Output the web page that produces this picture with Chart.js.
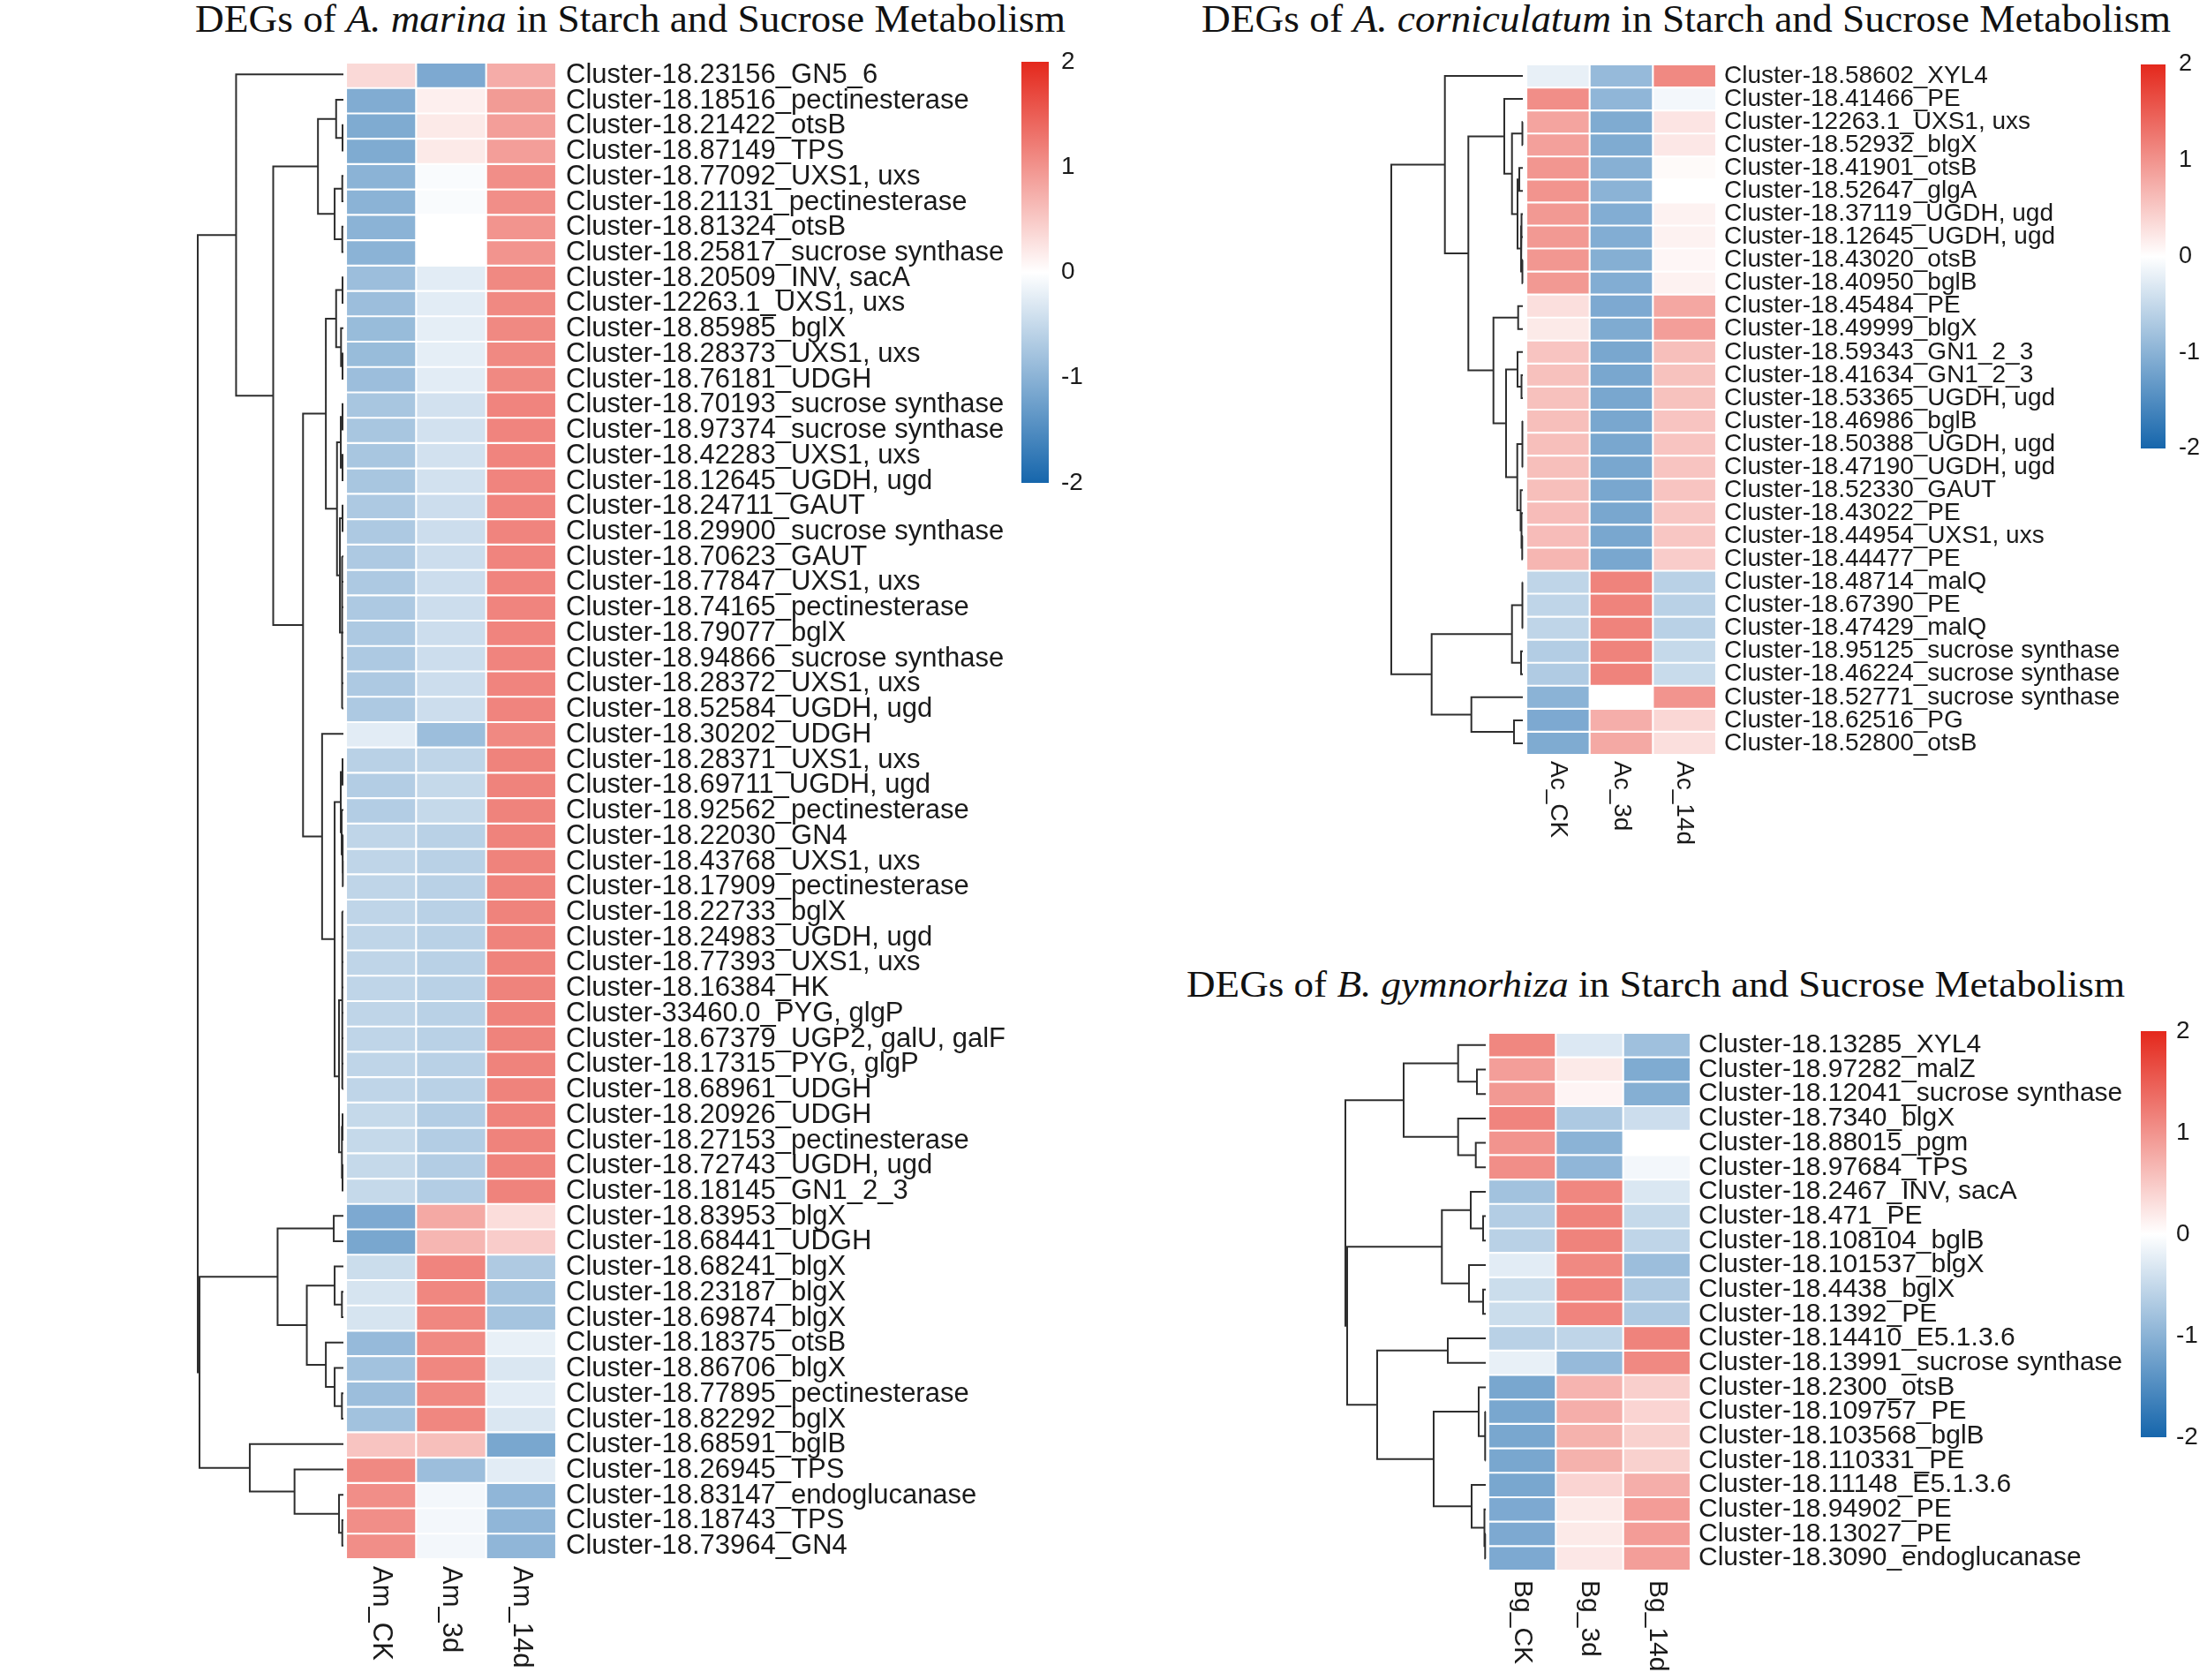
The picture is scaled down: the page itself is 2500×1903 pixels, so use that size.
<!DOCTYPE html>
<html>
<head>
<meta charset="utf-8">
<title>DEGs in Starch and Sucrose Metabolism</title>
<script src="https://cdn.jsdelivr.net/npm/chart.js@4.4.1/dist/chart.umd.min.js"></script>
<style>
  html, body { margin:0; padding:0; background:#fff; }
  body { width:2500px; height:1903px; position:relative; overflow:hidden; }
  canvas { position:absolute; }
  .ttl { position:absolute; font-family:"Liberation Serif","Times New Roman",serif; white-space:nowrap; color:#111; transform-origin:0 0; }
</style>
</head>
<body>
<div class="ttl" id="t1"></div>
<div class="ttl" id="t2"></div>
<div class="ttl" id="t3"></div>
<canvas id="d1"></canvas><canvas id="h1"></canvas><canvas id="k1"></canvas>
<canvas id="d2"></canvas><canvas id="h2"></canvas><canvas id="k2"></canvas>
<canvas id="d3"></canvas><canvas id="h3"></canvas><canvas id="k3"></canvas>
<script>
// ---------------- DATA ----------------
const amTitle = ['DEGs of ', 'A. marina', ' in Starch and Sucrose Metabolism'];
const acTitle = ['DEGs of ', 'A. corniculatum', ' in Starch and Sucrose Metabolism'];
const bgTitle = ['DEGs of ', 'B. gymnorhiza', ' in Starch and Sucrose Metabolism'];

const amCols = ['Am_CK', 'Am_3d', 'Am_14d'];
const acCols = ['Ac_CK', 'Ac_3d', 'Ac_14d'];
const bgCols = ['Bg_CK', 'Bg_3d', 'Bg_14d'];
const cbTicks = [-2, -1, 0, 1, 2];

const amGenes = [
"Cluster-18.23156_GN5_6","Cluster-18.18516_pectinesterase","Cluster-18.21422_otsB","Cluster-18.87149_TPS",
"Cluster-18.77092_UXS1, uxs","Cluster-18.21131_pectinesterase","Cluster-18.81324_otsB","Cluster-18.25817_sucrose synthase",
"Cluster-18.20509_INV, sacA","Cluster-12263.1_UXS1, uxs","Cluster-18.85985_bglX","Cluster-18.28373_UXS1, uxs",
"Cluster-18.76181_UDGH","Cluster-18.70193_sucrose synthase","Cluster-18.97374_sucrose synthase","Cluster-18.42283_UXS1, uxs",
"Cluster-18.12645_UGDH, ugd","Cluster-18.24711_GAUT","Cluster-18.29900_sucrose synthase","Cluster-18.70623_GAUT",
"Cluster-18.77847_UXS1, uxs","Cluster-18.74165_pectinesterase","Cluster-18.79077_bglX","Cluster-18.94866_sucrose synthase",
"Cluster-18.28372_UXS1, uxs","Cluster-18.52584_UGDH, ugd","Cluster-18.30202_UDGH","Cluster-18.28371_UXS1, uxs",
"Cluster-18.69711_UGDH, ugd","Cluster-18.92562_pectinesterase","Cluster-18.22030_GN4","Cluster-18.43768_UXS1, uxs",
"Cluster-18.17909_pectinesterase","Cluster-18.22733_bglX","Cluster-18.24983_UGDH, ugd","Cluster-18.77393_UXS1, uxs",
"Cluster-18.16384_HK","Cluster-33460.0_PYG, glgP","Cluster-18.67379_UGP2, galU, galF","Cluster-18.17315_PYG, glgP",
"Cluster-18.68961_UDGH","Cluster-18.20926_UDGH","Cluster-18.27153_pectinesterase","Cluster-18.72743_UGDH, ugd",
"Cluster-18.18145_GN1_2_3","Cluster-18.83953_blgX","Cluster-18.68441_UDGH","Cluster-18.68241_blgX",
"Cluster-18.23187_blgX","Cluster-18.69874_blgX","Cluster-18.18375_otsB","Cluster-18.86706_blgX",
"Cluster-18.77895_pectinesterase","Cluster-18.82292_bglX","Cluster-18.68591_bglB","Cluster-18.26945_TPS",
"Cluster-18.83147_endoglucanase","Cluster-18.18743_TPS","Cluster-18.73964_GN4"];

const amCK = [0.35,-1.08,-1.1,-1.1,-1.0,-1.0,-1.0,-1.0,-0.85,-0.85,-0.88,-0.88,-0.85,
  -0.75,-0.75,-0.75,-0.75,-0.7,-0.7,-0.7,-0.7,-0.7,-0.7,-0.7,-0.7,-0.7,
  -0.25,-0.6,-0.65,-0.65,-0.55,-0.55,-0.55,-0.55,-0.55,-0.55,-0.55,-0.55,-0.55,-0.55,-0.55,-0.5,-0.5,-0.5,-0.5,
  -1.12,-1.15,-0.45,-0.35,-0.35,-0.9,-0.8,-0.85,-0.8,0.55,1.1,1.05,1.05,1.05];
const am3d = [-1.12,0.15,0.2,0.2,-0.05,-0.05,0.0,0.0,-0.25,-0.25,-0.22,-0.22,-0.25,
  -0.39,-0.39,-0.39,-0.39,-0.44,-0.44,-0.44,-0.44,-0.44,-0.44,-0.44,-0.44,-0.44,
  -0.85,-0.55,-0.5,-0.5,-0.6,-0.6,-0.6,-0.6,-0.6,-0.6,-0.6,-0.6,-0.6,-0.6,-0.6,-0.65,-0.65,-0.65,-0.65,
  0.8,0.68,1.14,1.12,1.12,1.1,1.12,1.1,1.12,0.6,-0.85,-0.1,-0.1,-0.1];
const am14d = [0.77,0.93,0.9,0.9,1.05,1.05,1.0,1.0,1.1,1.1,1.1,1.1,1.1,
  1.14,1.14,1.14,1.14,1.14,1.14,1.14,1.14,1.14,1.14,1.14,1.14,1.14,
  1.1,1.15,1.15,1.15,1.15,1.15,1.15,1.15,1.15,1.15,1.15,1.15,1.15,1.15,1.15,1.15,1.15,1.15,1.15,
  0.32,0.47,-0.69,-0.77,-0.77,-0.2,-0.32,-0.25,-0.32,-1.15,-0.25,-0.95,-0.95,-0.95];

// dendrogram: [mergeHeight, child, child, ...]; leaves are row indices
const amTree = [166,
  [122.3, 0,
    [80,
      [29, [8.3, 1, [1, 2, 3]], [10, [1.3, 4, 5], [1.3, 6, 7]]],
      [46,
        [20,
          [8.3, [1, 8, 9], [2.7, 10, [1, 11, 12]]],
          [7.3, [3, [1, 13, 14], [1, 15, 16]], [4, [1, 17, 18], [1.5, 19, 20, 21, 22, 23, 24, 25]]]],
        [24.3, 26,
          [10, [3, [1, 27, 28], [2, 29, [1, 30, [0.7, 31, 32]]]],
               [5, [1.3, 33, 34, 35, 36, 37, 38, 39, 40], [1.7, [1, 41, 42], [1, 43, 44]]]]]]]],
  [164,
    [75, [11, 45, 46], [41.7, [10, 47, [1.7, 48, 49]], [20, 50, [10, 51, [1.7, 52, 53]]]]],
    [106.7, 54, [55.7, 55, [5, 56, [1.3, 57, 58]]]]]];

const acGenes = [
"Cluster-18.58602_XYL4","Cluster-18.41466_PE","Cluster-12263.1_UXS1, uxs","Cluster-18.52932_blgX",
"Cluster-18.41901_otsB","Cluster-18.52647_glgA","Cluster-18.37119_UGDH, ugd","Cluster-18.12645_UGDH, ugd",
"Cluster-18.43020_otsB","Cluster-18.40950_bglB","Cluster-18.45484_PE","Cluster-18.49999_blgX",
"Cluster-18.59343_GN1_2_3","Cluster-18.41634_GN1_2_3","Cluster-18.53365_UGDH, ugd","Cluster-18.46986_bglB",
"Cluster-18.50388_UGDH, ugd","Cluster-18.47190_UGDH, ugd","Cluster-18.52330_GAUT","Cluster-18.43022_PE",
"Cluster-18.44954_UXS1, uxs","Cluster-18.44477_PE","Cluster-18.48714_malQ","Cluster-18.67390_PE",
"Cluster-18.47429_malQ","Cluster-18.95125_sucrose synthase","Cluster-18.46224_sucrose synthase","Cluster-18.52771_sucrose synthase",
"Cluster-18.62516_PG","Cluster-18.52800_otsB"];
const acCK = [-0.2,1.05,0.85,0.88,0.98,1.0,0.95,0.95,0.97,0.95,0.3,0.2,0.55,0.58,0.58,0.6,0.6,0.6,0.6,0.62,0.62,0.68,
  -0.55,-0.55,-0.55,-0.65,-0.68,-1.0,-1.12,-1.1];
const ac3d = [-0.9,-0.95,-1.1,-1.1,-1.03,-1.0,-1.07,-1.07,-1.05,-1.07,-1.12,-1.1,-1.15,-1.15,-1.15,-1.15,-1.15,-1.15,-1.15,-1.15,-1.15,-1.15,
  1.15,1.15,1.15,1.15,1.15,0.0,0.75,0.8];
const ac14d = [1.1,-0.1,0.25,0.22,0.05,0.0,0.12,0.12,0.08,0.12,0.82,0.9,0.6,0.57,0.57,0.55,0.55,0.55,0.55,0.53,0.53,0.47,
  -0.6,-0.6,-0.6,-0.5,-0.47,1.0,0.37,0.3];
const acTree = [149,
  [88.3, 0,
    [61.7,
      [21, 1, [12.3, [0.5, 2, 3], [6, [4, 4, 5], [2, [1.5, 6, 7], [0.5, 8, 9]]]]],
      [33.3, [5.3, 10, 11], [19, [6, 12, [1.5, 13, 14]], [6.3, [0.5, 15, 16, 17], [2.5, 18, [1.5, 19, [0.7, 20, 21]]]]]]]],
  [103.3, [12.3, [0.5, 22, 23, 24], [2, 25, 26]], [58.3, 27, [10, 28, 29]]]];

const bgGenes = [
"Cluster-18.13285_XYL4","Cluster-18.97282_malZ","Cluster-18.12041_sucrose synthase","Cluster-18.7340_blgX",
"Cluster-18.88015_pgm","Cluster-18.97684_TPS","Cluster-18.2467_INV, sacA","Cluster-18.471_PE",
"Cluster-18.108104_bglB","Cluster-18.101537_blgX","Cluster-18.4438_bglX","Cluster-18.1392_PE",
"Cluster-18.14410_E5.1.3.6","Cluster-18.13991_sucrose synthase","Cluster-18.2300_otsB","Cluster-18.109757_PE",
"Cluster-18.103568_bglB","Cluster-18.110331_PE","Cluster-18.11148_E5.1.3.6","Cluster-18.94902_PE",
"Cluster-18.13027_PE","Cluster-18.3090_endoglucanase"];
const bgCK = [1.12,0.9,0.95,1.14,1.0,1.05,-0.8,-0.65,-0.6,-0.25,-0.45,-0.45,-0.6,-0.2,-1.15,-1.15,-1.15,-1.15,-1.15,-1.12,-1.12,-1.12];
const bg3d = [-0.3,0.2,0.1,-0.7,-1.0,-0.95,1.12,1.15,1.15,1.1,1.14,1.14,-0.55,-0.9,0.7,0.75,0.72,0.72,0.4,0.2,0.2,0.22];
const bg14d = [-0.82,-1.1,-1.05,-0.44,0.0,-0.1,-0.32,-0.5,-0.55,-0.85,-0.69,-0.69,1.15,1.1,0.45,0.4,0.43,0.43,0.75,0.92,0.92,0.9];
const bgTree = [159,
  [93, [31.3, 0, [10, 1, 2]], [31.3, 3, [11.3, 4, 5]]],
  [157,
    [49.7, [17, 6, [3, 7, 8]], [19, 9, [3, 10, 11]]],
    [123, [43, 12, 13], [59, [8, 14, [0.7, 15, 16, 17]], [16, 18, [1.5, 19, [0.7, 20, 21]]]]]]];

// colour scale stops (value -> rgb)
const cmapStops = [[-2, [22,102,172]], [0, [255,255,255]], [2, [228,40,28]]];

// ---------------- LAYOUT ----------------
const L = {
  p1: { title:{left:221, top:0, width:986, size:44},
        dendro:{rootX:224, leafX:389, top:70, bottom:1765},
        heat:{left:392, right:630, top:71, bottom:1766, font:31, gap:11, colGap:8},
        bar:{left:1157, right:1188, top:70, bottom:547, font:28, gap:14} },
  p2: { title:{left:1361, top:0, width:1098, size:44},
        dendro:{rootX:1576, leafX:1725, top:73, bottom:855},
        heat:{left:1729, right:1944, top:73, bottom:855, font:28, gap:9, colGap:7},
        bar:{left:2425, right:2453, top:73, bottom:508, font:27, gap:15} },
  p3: { title:{left:1344, top:1094, width:1063, size:42},
        dendro:{rootX:1524, leafX:1683, top:1170, bottom:1779},
        heat:{left:1686, right:1915, top:1170, bottom:1779, font:30, gap:9, colGap:11},
        bar:{left:2425, right:2454, top:1168, bottom:1628, font:28, gap:11} }
};

// ---------------- HELPERS ----------------
const SANS = '"Liberation Sans", Arial, Helvetica, sans-serif';
Chart.defaults.font.family = SANS;
Chart.defaults.color = '#1a1a1a';

function colorFor(v) {
  v = Math.max(-2, Math.min(2, v));
  for (let i = 0; i < cmapStops.length - 1; i++) {
    const [v0, c0] = cmapStops[i], [v1, c1] = cmapStops[i + 1];
    if (v >= v0 && v <= v1) {
      const t = (v - v0) / (v1 - v0);
      const c = c0.map((a, k) => Math.round(a + (c1[k] - a) * t));
      return 'rgb(' + c.join(',') + ')';
    }
  }
  return '#fff';
}

function placeCanvas(id, left, top, w, h) {
  const c = document.getElementById(id);
  c.width = Math.round(w); c.height = Math.round(h);
  c.style.left = left + 'px'; c.style.top = top + 'px';
  c.style.width = Math.round(w) + 'px'; c.style.height = Math.round(h) + 'px';
  return c;
}

function placeTitle(id, parts, g) {
  const el = document.getElementById(id);
  el.style.fontSize = g.size + 'px';
  el.style.lineHeight = g.size + 'px';
  el.innerHTML = '';
  parts.forEach((p, i) => {
    const s = document.createElement(i === 1 ? 'i' : 'span');
    s.textContent = p;
    el.appendChild(s);
  });
  el.style.left = g.left + 'px'; el.style.top = g.top + 'px';
  const w = el.getBoundingClientRect().width;
  el.style.transform = 'scaleX(' + (g.width / w) + ')';
}

function treeSegments(tree) {
  const pts = [];
  const gap = {x: NaN, y: NaN};
  function walk(n) {
    if (typeof n === 'number') return {y: n + 0.5, h: 0};
    const h = n[0];
    const kids = n.slice(1).map(walk);
    const yA = kids[0].y, yB = kids[kids.length - 1].y;
    if (kids.length === 2) {
      pts.push({x: kids[0].h, y: yA}, {x: h, y: yA}, {x: h, y: yB}, {x: kids[1].h, y: yB}, gap);
    } else {
      pts.push({x: h, y: yA}, {x: h, y: yB}, gap);
      kids.forEach(k => pts.push({x: k.h, y: k.y}, {x: h, y: k.y}, gap));
    }
    return {y: (yA + yB) / 2, h};
  }
  walk(tree);
  return pts;
}

function drawDendro(id, tree, nRows, g) {
  const pad = 10;
  const c = placeCanvas(id, g.rootX - pad, g.top - pad, g.leafX - g.rootX + 2 * pad, g.bottom - g.top + 2 * pad);
  new Chart(c, {
    type: 'scatter',
    data: { datasets: [{ data: treeSegments(tree), showLine: true, spanGaps: false, pointRadius: 0,
      borderColor: '#2e2e2e', borderWidth: 2, clip: false, borderJoinStyle: 'miter', borderCapStyle: 'butt' }] },
    options: {
      responsive: false, animation: false, events: [],
      layout: { autoPadding: false, padding: pad },
      plugins: { legend: {display: false}, tooltip: {enabled: false} },
      scales: {
        x: { type: 'linear', display: false, min: 0, max: tree[0], reverse: true },
        y: { type: 'linear', display: false, min: 0, max: nRows, reverse: true }
      }
    }
  });
}

const colLabelPlugin = {
  id: 'colLabels',
  afterDraw(chart, args, opts) {
    const {ctx, chartArea, scales} = chart;
    ctx.save();
    ctx.font = opts.size + 'px ' + SANS;
    ctx.fillStyle = '#1a1a1a';
    ctx.textAlign = 'left';
    ctx.textBaseline = 'middle';
    opts.labels.forEach((t, j) => {
      const x = scales.x.getPixelForValue(j + 0.5);
      ctx.save();
      ctx.translate(x, chartArea.bottom + opts.gap);
      ctx.rotate(Math.PI / 2);
      ctx.fillText(t, 0, 0);
      ctx.restore();
    });
    ctx.restore();
  }
};

function drawHeatmap(id, rows, cols, colNames, g) {
  const padT = 60, padB = 150, labelW = 620;
  const w = g.right - g.left, h = g.bottom - g.top;
  const c = placeCanvas(id, g.left, g.top - padT, w + labelW, h + padT + padB);
  new Chart(c, {
    type: 'bar',
    data: {
      labels: rows,
      datasets: cols.map((vals, j) => ({
        label: colNames[j],
        data: vals.map(() => 1),
        backgroundColor: vals.map(colorFor),
        borderColor: '#ffffff', borderWidth: 1.4, borderSkipped: false,
        barPercentage: 1, categoryPercentage: 1
      }))
    },
    options: {
      indexAxis: 'y', responsive: false, animation: false, events: [],
      layout: { autoPadding: false, padding: {top: padT, bottom: padB, left: 0, right: 0} },
      plugins: { legend: {display: false}, tooltip: {enabled: false},
                 colLabels: { labels: colNames, size: g.font, gap: g.colGap } },
      scales: {
        x: { type: 'linear', stacked: true, min: 0, max: cols.length, display: false },
        y: { type: 'category', stacked: true, position: 'right', offset: true,
             grid: {display: false, drawTicks: false}, border: {display: false},
             ticks: { autoSkip: false, padding: g.gap, font: {size: g.font}, color: '#1a1a1a' },
             afterFit(s) { s.width = labelW; } }
      }
    },
    plugins: [colLabelPlugin]
  });
}

function drawColorbar(id, g) {
  const axisW = 80, padT = 60, padB = 60;
  const w = g.right - g.left, h = g.bottom - g.top;
  const lo = cbTicks[0], hi = cbTicks[cbTicks.length - 1];
  const c = placeCanvas(id, g.left, g.top - padT, w + axisW, h + padT + padB);
  new Chart(c, {
    type: 'bar',
    data: { labels: [''], datasets: [{
      data: [[lo, hi]],
      backgroundColor(ctx) {
        const ch = ctx.chart;
        if (!ch.chartArea) return '#ffffff';
        const y = ch.scales.y;
        const grad = ch.ctx.createLinearGradient(0, y.getPixelForValue(lo), 0, y.getPixelForValue(hi));
        cmapStops.forEach(([v, col]) => grad.addColorStop((v - lo) / (hi - lo), 'rgb(' + col.join(',') + ')'));
        return grad;
      },
      borderWidth: 0, barPercentage: 1, categoryPercentage: 1 }] },
    options: {
      responsive: false, animation: false, events: [],
      layout: { autoPadding: false, padding: {top: padT, bottom: padB, left: 0, right: 0} },
      plugins: { legend: {display: false}, tooltip: {enabled: false} },
      scales: {
        x: { display: false },
        y: { type: 'linear', min: lo, max: hi, position: 'right',
             grid: {display: false, drawTicks: false}, border: {display: false},
             afterBuildTicks(s) { s.ticks = cbTicks.map(v => ({value: v})); },
             ticks: { padding: g.gap, font: {size: g.font}, color: '#1a1a1a' },
             afterFit(s) { s.width = axisW; } }
      }
    }
  });
}

// ---------------- DRAW ----------------
placeTitle('t1', amTitle, L.p1.title);
placeTitle('t2', acTitle, L.p2.title);
placeTitle('t3', bgTitle, L.p3.title);

drawDendro('d1', amTree, amGenes.length, L.p1.dendro);
drawHeatmap('h1', amGenes, [amCK, am3d, am14d], amCols, L.p1.heat);
drawColorbar('k1', L.p1.bar);

drawDendro('d2', acTree, acGenes.length, L.p2.dendro);
drawHeatmap('h2', acGenes, [acCK, ac3d, ac14d], acCols, L.p2.heat);
drawColorbar('k2', L.p2.bar);

drawDendro('d3', bgTree, bgGenes.length, L.p3.dendro);
drawHeatmap('h3', bgGenes, [bgCK, bg3d, bg14d], bgCols, L.p3.heat);
drawColorbar('k3', L.p3.bar);
</script>
</body>
</html>
